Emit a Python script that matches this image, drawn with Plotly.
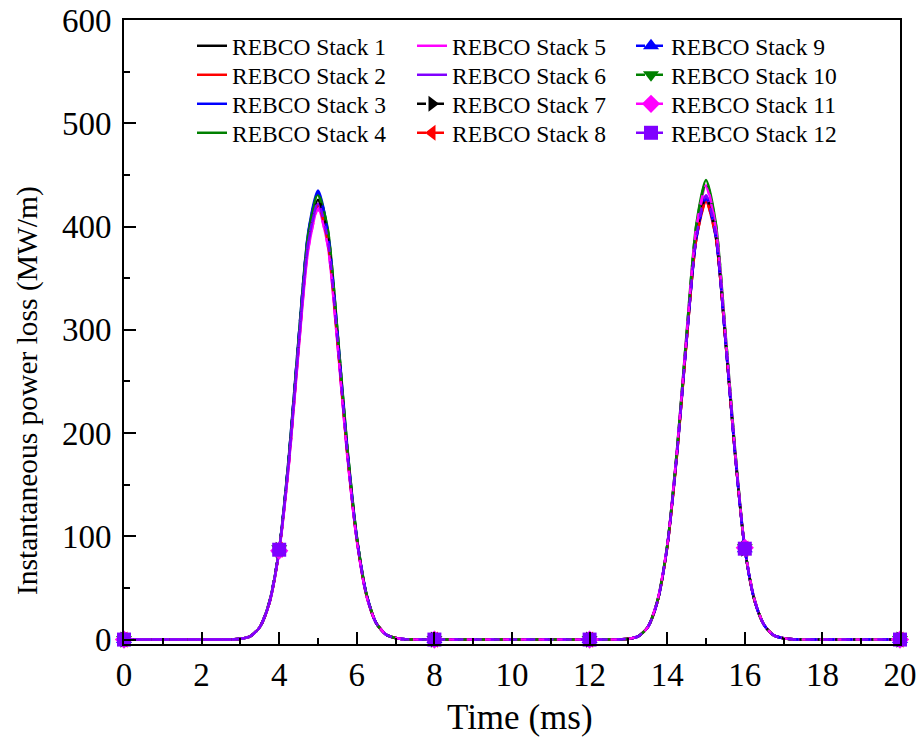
import plotly.graph_objects as go

# ---------------- data ----------------
time_ms = [0, 2,
           2.5, 2.75, 3, 3.25, 3.5, 3.75, 4, 4.25, 4.5, 4.75, 5, 5.25, 5.5, 5.75, 6, 6.25, 6.5, 6.75, 7, 7.25, 7.5,
           8, 10, 12,
           12.5, 12.75, 13, 13.25, 13.5, 13.75, 14, 14.25, 14.5, 14.75, 15, 15.25, 15.5, 15.75, 16, 16.25, 16.5, 16.75, 17, 17.25, 17.5,
           18, 20]

stack1 = [0, 0, 0, 0.1, 0.7, 3, 12, 36, 87, 175, 286, 386, 426, 390, 293, 184, 98, 43, 16, 5, 1.5, 0.3, 0,
          0, 0, 0, 0, 0.1, 0.7, 3, 12, 37, 90, 180, 291, 390, 428, 392, 291, 180, 88, 38, 14, 4, 1.2, 0.2, 0, 0, 0]
stack2 = [0, 0, 0, 0.1, 0.7, 3, 12, 36, 87, 172, 283, 382, 420, 386, 290, 182, 97, 43, 16, 5, 1.5, 0.3, 0,
          0, 0, 0, 0, 0.1, 0.7, 3, 12, 37, 89, 178, 289, 388, 424, 390, 290, 179, 88, 38, 14, 4, 1.2, 0.2, 0, 0, 0]
stack3 = [0, 0, 0, 0.1, 0.7, 3, 12, 37, 88, 178, 292, 395, 435, 396, 298, 187, 99, 44, 16, 5, 1.5, 0.3, 0,
          0, 0, 0, 0, 0.1, 0.7, 3, 12, 37, 90, 179, 290, 388, 428, 391, 290, 179, 88, 38, 14, 4, 1.2, 0.2, 0, 0, 0]
stack4 = [0, 0, 0, 0.1, 0.7, 3, 12, 37, 88, 177, 291, 393, 432, 398, 300, 189, 100, 44, 16, 5, 1.5, 0.3, 0,
          0, 0, 0, 0, 0.1, 0.7, 3, 12, 38, 91, 183, 297, 402, 445, 404, 298, 184, 89, 39, 14, 4, 1.2, 0.2, 0, 0, 0]
stack5 = [0, 0, 0, 0.1, 0.7, 3, 12, 36, 86, 170, 280, 378, 418, 382, 287, 180, 96, 42, 16, 5, 1.5, 0.3, 0,
          0, 0, 0, 0, 0.1, 0.7, 3, 12, 38, 91, 182, 295, 398, 440, 400, 296, 182, 89, 39, 14, 4, 1.2, 0.2, 0, 0, 0]
stack6 = [0, 0, 0, 0.1, 0.7, 3, 12, 36, 87, 173, 285, 384, 422, 388, 292, 183, 97, 43, 16, 5, 1.5, 0.3, 0,
          0, 0, 0, 0, 0.1, 0.7, 3, 12, 37, 90, 180, 291, 390, 430, 393, 292, 180, 88, 38, 14, 4, 1.2, 0.2, 0, 0, 0]
stack7 = [0, 0, 0, 0.1, 0.7, 3, 12, 36, 87, 175, 287, 387, 427, 391, 294, 184, 98, 43, 16, 5, 1.5, 0.3, 0,
          0, 0, 0, 0, 0.1, 0.7, 3, 12, 37, 90, 180, 292, 391, 429, 392, 291, 180, 88, 38, 14, 4, 1.2, 0.2, 0, 0, 0]
stack8 = [0, 0, 0, 0.1, 0.7, 3, 12, 36, 87, 172, 284, 383, 421, 386, 290, 182, 97, 43, 16, 5, 1.5, 0.3, 0,
          0, 0, 0, 0, 0.1, 0.7, 3, 12, 37, 89, 178, 289, 388, 425, 390, 290, 179, 88, 38, 14, 4, 1.2, 0.2, 0, 0, 0]
stack9 = [0, 0, 0, 0.1, 0.7, 3, 12, 37, 88, 178, 292, 394, 433, 395, 297, 186, 99, 44, 16, 5, 1.5, 0.3, 0,
          0, 0, 0, 0, 0.1, 0.7, 3, 12, 37, 90, 179, 290, 389, 428, 391, 290, 179, 88, 38, 14, 4, 1.2, 0.2, 0, 0, 0]
stack10 = [0, 0, 0, 0.1, 0.7, 3, 12, 37, 88, 177, 290, 392, 430, 397, 299, 188, 100, 44, 16, 5, 1.5, 0.3, 0,
           0, 0, 0, 0, 0.1, 0.7, 3, 12, 38, 91, 183, 296, 401, 443, 403, 298, 184, 89, 39, 14, 4, 1.2, 0.2, 0, 0, 0]
stack11 = [0, 0, 0, 0.1, 0.7, 3, 12, 36, 86, 170, 281, 379, 417, 382, 287, 180, 96, 42, 16, 5, 1.5, 0.3, 0,
           0, 0, 0, 0, 0.1, 0.7, 3, 12, 38, 91, 182, 294, 397, 438, 399, 295, 182, 89, 39, 14, 4, 1.2, 0.2, 0, 0, 0]
stack12 = [0, 0, 0, 0.1, 0.7, 3, 12, 36, 87, 173, 286, 385, 423, 388, 292, 183, 97, 43, 16, 5, 1.5, 0.3, 0,
           0, 0, 0, 0, 0.1, 0.7, 3, 12, 37, 90, 180, 291, 390, 430, 393, 292, 180, 88, 38, 14, 4, 1.2, 0.2, 0, 0, 0]

series_names = [f"REBCO Stack {i}" for i in range(1, 13)]
series_values = [stack1, stack2, stack3, stack4, stack5, stack6,
                 stack7, stack8, stack9, stack10, stack11, stack12]
marker_times = [0, 4, 8, 12, 16, 20]

x_ticks = [0, 2, 4, 6, 8, 10, 12, 14, 16, 18, 20]
y_ticks = [0, 100, 200, 300, 400, 500, 600]
x_title = "Time (ms)"
y_title = "Instantaneous power loss (MW/m)"

# ---------------- styles ----------------
colors = ["#000000", "#FF0000", "#0000FF", "#008000", "#FF00FF", "#8000FF",
          "#000000", "#FF0000", "#0000FF", "#008000", "#FF00FF", "#8000FF"]
symbols = [None] * 6 + ["triangle-right", "triangle-left", "triangle-up",
                        "triangle-down", "diamond", "square"]
FONT = "Liberation Serif, Times New Roman, serif"

W, H = 920, 742
ml, mr, mt, mb = 124, 20, 20, 98
plot_w = W - ml - mr
plot_h = H - mt - mb

def px_to_paper_x(px):
    return (px - ml) / plot_w

def px_to_paper_y(py):
    return 1 - (py - mt) / plot_h

# legend layout: 3 columns x 4 rows, column-major (one legend per entry)
col_text_px = [232, 452, 671]
row_center_px = [46, 75, 104, 133]

fig = go.Figure()
legend_layout = {}
for i, (name, vals) in enumerate(zip(series_names, series_values)):
    col = colors[i]
    lid = "legend" if i == 0 else f"legend{i + 1}"
    c, r = divmod(i, 4)
    legend_layout[lid] = dict(
        font=dict(family=FONT, size=23.5, color="black"),
        bgcolor="rgba(0,0,0,0)", borderwidth=0,
        xanchor="left", yanchor="middle",
        x=px_to_paper_x(col_text_px[c] - 40),
        y=px_to_paper_y(row_center_px[r]),
    )
    if symbols[i] is None:
        fig.add_trace(go.Scatter(x=time_ms, y=vals, mode="lines", name=name,
                                 line=dict(color=col, width=2.5, shape="spline", smoothing=0.7),
                                 legend=lid, cliponaxis=False))
    else:
        fig.add_trace(go.Scatter(x=time_ms, y=vals, mode="lines", name=name,
                                 line=dict(color=col, width=2.5, dash="dash",
                                           shape="spline", smoothing=0.7),
                                 showlegend=False, cliponaxis=False))
        mx = [t for t in time_ms if t in marker_times]
        my = [v for t, v in zip(time_ms, vals) if t in marker_times]
        fig.add_trace(go.Scatter(x=mx, y=my, mode="markers", showlegend=False,
                                 marker=dict(color=col, symbol=symbols[i], size=14,
                                             line=dict(width=0)),
                                 cliponaxis=False))
        fig.add_trace(go.Scatter(x=[None], y=[None], mode="lines+markers", name=name,
                                 line=dict(color=col, width=2.5, dash="dash"),
                                 marker=dict(color=col, symbol=symbols[i], size=14),
                                 legend=lid))

fig.update_layout(
    width=W, height=H,
    margin=dict(l=ml, r=mr, t=mt, b=mb),
    plot_bgcolor="white", paper_bgcolor="white",
    font=dict(family=FONT, color="black"),
    xaxis=dict(range=[0, 20], tickvals=x_ticks, ticktext=[str(v) for v in x_ticks],
               ticks="inside", ticklen=12, tickwidth=2, tickcolor="black",
               minor=dict(dtick=1, ticks="inside", ticklen=6, tickwidth=2, tickcolor="black"),
               showline=True, linewidth=2, linecolor="black", mirror=True,
               showgrid=False, zeroline=False, automargin=False,
               tickfont=dict(family=FONT, size=33, color="black")),
    yaxis=dict(range=[-4.3, 600], tickvals=y_ticks, ticktext=[str(v) for v in y_ticks],
               ticks="inside", ticklen=12, tickwidth=2, tickcolor="black",
               minor=dict(dtick=50, tick0=0, ticks="inside", ticklen=6, tickwidth=2, tickcolor="black"),
               showline=True, linewidth=2, linecolor="black", mirror=True,
               showgrid=False, zeroline=False, automargin=False, ticklabelstandoff=4,
               tickfont=dict(family=FONT, size=33, color="black")),
    annotations=[
        dict(text=x_title, xref="paper", yref="paper",
             x=px_to_paper_x(519.5), y=px_to_paper_y(717),
             xanchor="center", yanchor="middle", showarrow=False,
             font=dict(family=FONT, size=35, color="black")),
        dict(text=y_title, xref="paper", yref="paper", textangle=-90,
             x=px_to_paper_x(27), y=px_to_paper_y(391),
             xanchor="center", yanchor="middle", showarrow=False,
             font=dict(family=FONT, size=29.5, color="black")),
    ],
    **legend_layout,
)

fig.write_html("out.html")
